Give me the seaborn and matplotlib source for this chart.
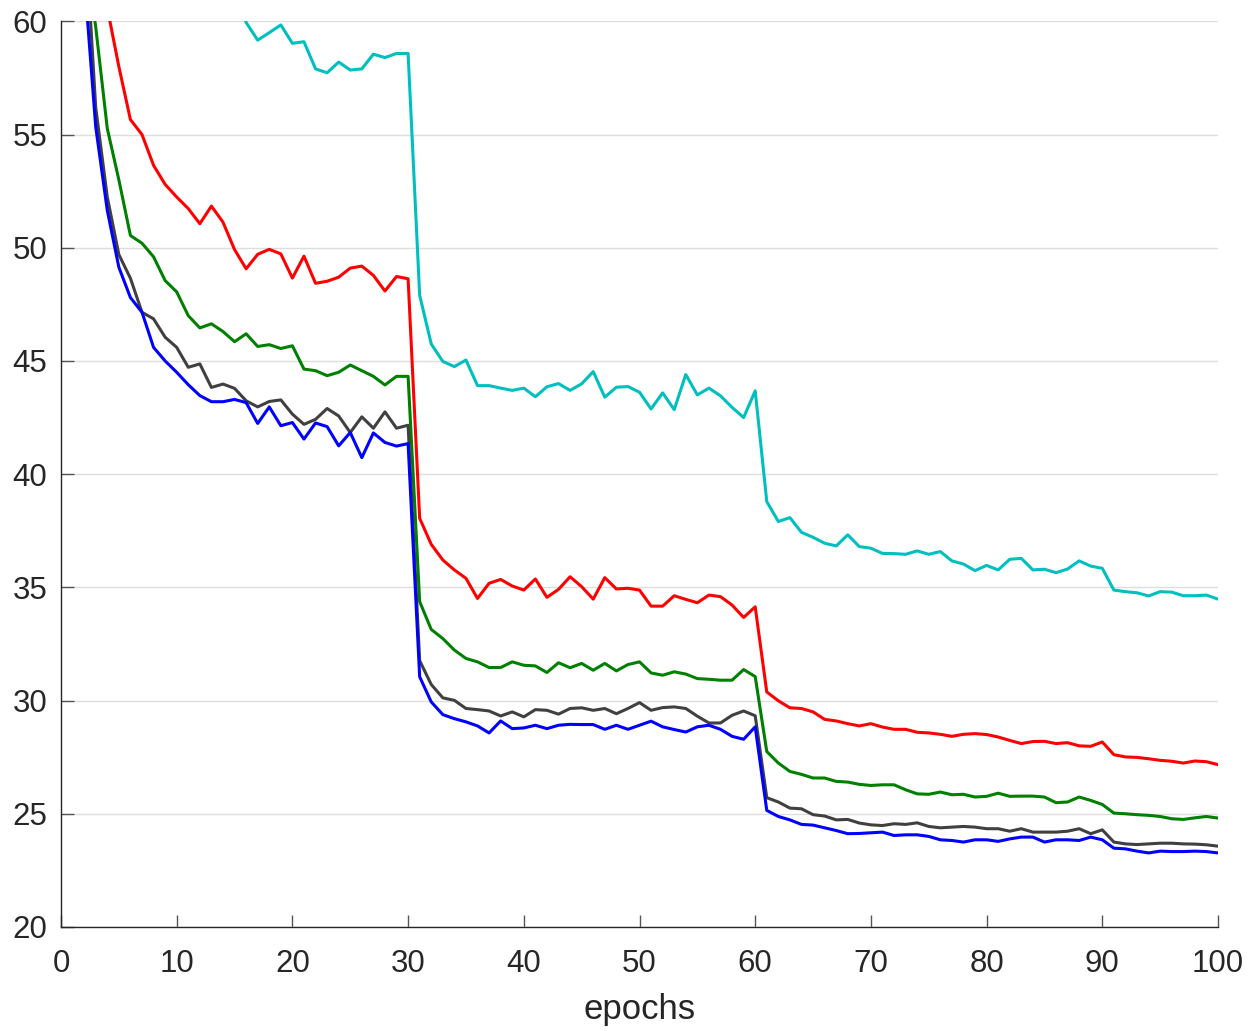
import numpy as np
import pandas as pd
import matplotlib
matplotlib.use("Agg")
import matplotlib.pyplot as plt
import seaborn as sns

epochs = list(range(1, 101))

cyan_vals = [
    85.0, 78.0, 74.0, 71.0, 69.0, 67.5, 66.3, 65.4, 64.6, 63.9,
    63.3, 62.8, 62.4, 62.0, 61.5, 59.95, 59.17, 59.5, 59.84, 59.03,
    59.1, 57.9, 57.73, 58.2, 57.85, 57.9, 58.55, 58.4, 58.58, 58.58,
    47.9, 45.75, 44.98, 44.75, 45.04, 43.91, 43.91, 43.8, 43.7, 43.8,
    43.42, 43.86, 44.0, 43.7, 43.99, 44.53, 43.4, 43.84, 43.87, 43.62,
    42.88, 43.59, 42.85, 44.4, 43.5, 43.8, 43.46, 42.95, 42.5, 43.68,
    38.79, 37.91, 38.08, 37.43, 37.21, 36.95, 36.83, 37.32, 36.8, 36.73,
    36.5, 36.49, 36.46, 36.61, 36.46, 36.58, 36.17, 36.03, 35.74, 35.97,
    35.77, 36.24, 36.28, 35.77, 35.8, 35.65, 35.81, 36.17, 35.94, 35.84,
    34.88, 34.81, 34.76, 34.62, 34.81, 34.79, 34.63, 34.63, 34.66, 34.48,
]

red_vals = [
    75.0, 68.0, 64.0, 60.6, 58.0, 55.66, 55.0, 53.64, 52.8, 52.24,
    51.73, 51.06, 51.84, 51.13, 49.92, 49.07, 49.71, 49.93, 49.73, 48.66,
    49.63, 48.43, 48.52, 48.7, 49.1, 49.19, 48.78, 48.09, 48.73, 48.63,
    38.05, 36.9, 36.21, 35.77, 35.4, 34.51, 35.18, 35.35, 35.06, 34.88,
    35.37, 34.56, 34.91, 35.47, 35.03, 34.48, 35.43, 34.93, 34.96, 34.88,
    34.17, 34.17, 34.63, 34.47, 34.32, 34.66, 34.59, 34.22, 33.67, 34.14,
    30.38, 29.99, 29.68, 29.65, 29.5, 29.17, 29.1, 28.98, 28.88, 28.98,
    28.83, 28.73, 28.73, 28.6, 28.57, 28.51, 28.42, 28.51, 28.54, 28.5,
    28.39, 28.24, 28.1, 28.19, 28.2, 28.1, 28.14, 28.0, 27.98, 28.17,
    27.61, 27.51, 27.49, 27.43, 27.36, 27.32, 27.24, 27.33, 27.3, 27.17,
]

green_vals = [
    70.0, 63.5, 59.75, 55.27, 53.0, 50.54, 50.2, 49.6, 48.55, 48.05,
    47.0, 46.46, 46.64, 46.3, 45.85, 46.2, 45.64, 45.72, 45.55, 45.67,
    44.64, 44.57, 44.35, 44.5, 44.82, 44.57, 44.32, 43.94, 44.32, 44.32,
    34.37, 33.14, 32.74, 32.23, 31.86, 31.71, 31.46, 31.46, 31.71, 31.56,
    31.53, 31.24, 31.67, 31.45, 31.64, 31.34, 31.64, 31.31, 31.59, 31.71,
    31.22, 31.12, 31.27, 31.17, 30.97, 30.94, 30.9, 30.9, 31.37, 31.06,
    27.75, 27.24, 26.87, 26.74, 26.58, 26.58, 26.43, 26.4, 26.3, 26.25,
    26.28, 26.28, 26.06, 25.88, 25.86, 25.96, 25.84, 25.86, 25.74, 25.77,
    25.91, 25.77, 25.78, 25.78, 25.74, 25.49, 25.52, 25.74, 25.59, 25.41,
    25.03, 25.0, 24.96, 24.93, 24.88, 24.78, 24.75, 24.82, 24.88, 24.81,
]

gray_vals = [
    70.0, 64.8, 56.2, 52.24, 49.7, 48.65, 47.15, 46.86, 46.05, 45.6,
    44.72, 44.87, 43.83, 43.98, 43.79, 43.24, 42.97, 43.21, 43.28, 42.65,
    42.2, 42.42, 42.9, 42.57, 41.84, 42.53, 42.03, 42.75, 42.03, 42.16,
    31.76, 30.71, 30.12, 30.01, 29.65, 29.6, 29.54, 29.32, 29.5, 29.28,
    29.6, 29.57, 29.4, 29.65, 29.68, 29.57, 29.65, 29.42, 29.65, 29.91,
    29.57, 29.69, 29.72, 29.65, 29.31, 29.01, 29.01, 29.35, 29.54, 29.33,
    25.71, 25.52, 25.25, 25.22, 24.96, 24.9, 24.73, 24.75, 24.59, 24.51,
    24.48, 24.56, 24.53, 24.6, 24.44, 24.38, 24.41, 24.44, 24.41, 24.34,
    24.34, 24.23, 24.34, 24.19, 24.19, 24.19, 24.23, 24.34, 24.12, 24.29,
    23.75, 23.67, 23.64, 23.67, 23.7, 23.7, 23.67, 23.66, 23.63, 23.57,
]

blue_vals = [
    70.0, 62.0, 55.34, 51.65, 49.14, 47.8, 47.15, 45.6, 45.0, 44.5,
    43.95, 43.47, 43.2, 43.2, 43.3, 43.16, 42.24, 42.97, 42.14, 42.28,
    41.55, 42.26, 42.1, 41.25, 41.84, 40.73, 41.82, 41.4, 41.24, 41.35,
    31.05, 29.94, 29.38, 29.2, 29.06, 28.88, 28.57, 29.1, 28.76, 28.79,
    28.91, 28.76, 28.91, 28.95, 28.94, 28.94, 28.73, 28.91, 28.73, 28.91,
    29.09, 28.84, 28.72, 28.61, 28.84, 28.91, 28.73, 28.42, 28.29, 28.84,
    25.15, 24.88, 24.73, 24.53, 24.5, 24.38, 24.26, 24.12, 24.13, 24.16,
    24.19, 24.04, 24.07, 24.07, 24.0, 23.85, 23.82, 23.75, 23.85, 23.85,
    23.78, 23.89, 23.97, 23.97, 23.75, 23.85, 23.85, 23.82, 23.97, 23.85,
    23.48, 23.45, 23.35, 23.27, 23.35, 23.33, 23.33, 23.35, 23.33, 23.27,
]

series_names = ["cyan", "red", "green", "gray", "blue"]
series_colors = {"cyan": "#00BFBF", "red": "#FF0000", "green": "#008000",
                 "gray": "#404040", "blue": "#0000FF"}

x_ticks = [0, 10, 20, 30, 40, 50, 60, 70, 80, 90, 100]
y_ticks = [20, 25, 30, 35, 40, 45, 50, 55, 60]

frames = []
for name, vals in zip(series_names,
                      [cyan_vals, red_vals, green_vals, gray_vals, blue_vals]):
    frames.append(pd.DataFrame({"epoch": epochs, "value": vals, "series": name}))
df = pd.concat(frames, ignore_index=True)

sns.set_style("white")
plt.rcParams["font.family"] = ["Liberation Sans", "DejaVu Sans"]

fig = plt.figure(figsize=(12.5, 10.31), dpi=100)
ax = fig.add_axes([0.0488, 0.1009, 0.9256, 0.8784])

sns.lineplot(data=df, x="epoch", y="value", hue="series",
             hue_order=series_names, palette=series_colors,
             linewidth=2.2, legend=False, ax=ax)

ax.set_xlim(0, 100)
ax.set_ylim(20, 60)
ax.set_xticks(x_ticks)
ax.set_yticks(y_ticks)
ax.yaxis.grid(True, color="#dedede", linewidth=1.0)
ax.xaxis.grid(False)
ax.set_axisbelow(True)

for s in ["top", "right"]:
    ax.spines[s].set_visible(False)
for s in ["left", "bottom"]:
    ax.spines[s].set_color("#262626")
    ax.spines[s].set_linewidth(1.0)

ax.tick_params(axis="both", which="major", direction="in", length=9, width=1.0,
               color="#555555", labelsize=22.5, labelcolor="#262626",
               bottom=True, left=True, top=False, right=False)
ax.tick_params(axis="y", pad=10)
ax.tick_params(axis="x", pad=16)

ax.set_xlabel("epochs", fontsize=25, color="#262626", labelpad=10)
ax.set_ylabel("")

fig.savefig("out.png", dpi=100)
